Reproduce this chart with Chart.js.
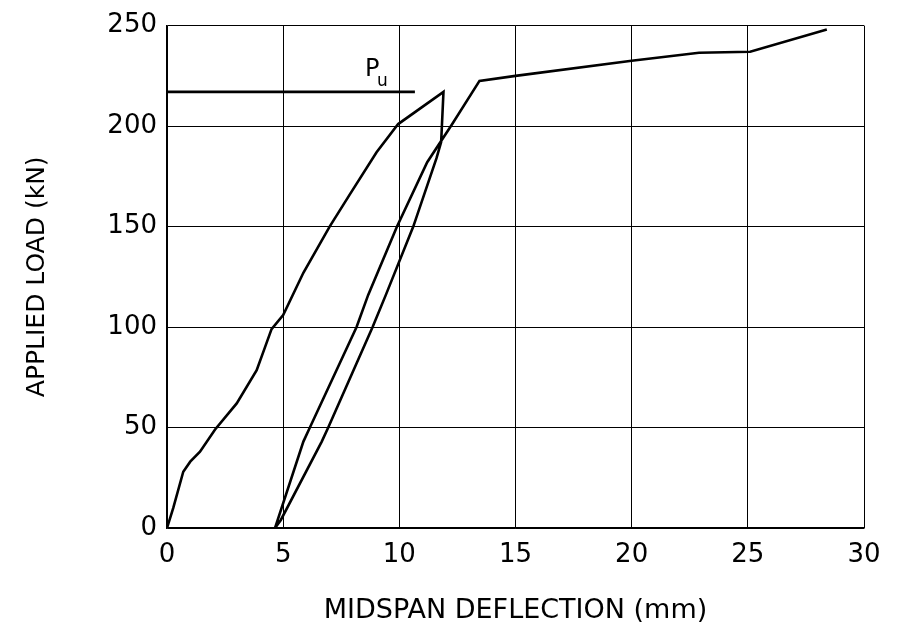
<!DOCTYPE html>
<html>
<head>
<meta charset="utf-8">
<title>Applied load vs midspan deflection</title>
<script src="https://cdn.jsdelivr.net/npm/chart.js@4.4.1/dist/chart.umd.min.js"></script>
<style>
  html, body { margin: 0; padding: 0; background: #fff; }
  #wrap { width: 900px; height: 631px; }
</style>
</head>
<body>
<div id="wrap"><canvas id="loadChart" width="900" height="631"></canvas></div>
<script>
// axis ticks
const xTicks = [0, 5, 10, 15, 20, 25, 30];
const yTicks = [0, 50, 100, 150, 200, 250];

// load-deflection curve (loading, unloading, reloading)
const deflection = [0, 0.27, 0.7, 1.0, 1.42, 2.07, 3.0, 3.86, 4.22, 4.5, 5.0, 5.87, 7.0, 7.87, 9.02, 9.95, 11.9,
  11.8, 11.6, 10.6, 9.42, 8.85, 6.94, 6.66, 4.9, 4.65,
  5.87, 6.15, 8.16, 8.66, 9.9, 11.2, 12.25, 13.45, 15.0, 20.0, 22.9, 25.1, 28.4];
const load = [0, 10, 28, 33, 38, 49, 62, 78.5, 90, 99, 106, 127, 150, 166, 187, 201, 217,
  192, 184, 150, 116, 100, 50, 43, 4, 0,
  43, 50, 100, 116, 150, 182, 200.5, 222.5, 225, 232.5, 236.5, 237, 248];

// ultimate load line Pu
const puX = [0, 10.67];
const puY = [217, 217];

const toPoints = (xs, ys) => xs.map((x, i) => ({ x, y: ys[i] }));

// Pu label next to the horizontal line
const puLabel = {
  id: 'puLabel',
  afterDatasetsDraw(chart) {
    const { ctx, scales } = chart;
    const px = scales.x.getPixelForValue(8.52);
    const py = scales.y.getPixelForValue(225);
    ctx.save();
    ctx.fillStyle = '#000';
    ctx.textBaseline = 'alphabetic';
    ctx.font = '24px "DejaVu Sans"';
    ctx.fillText('P', px, py);
    ctx.font = '17px "DejaVu Sans"';
    ctx.fillText('u', px + 12, py + 10);
    ctx.restore();
  }
};

new Chart(document.getElementById('loadChart').getContext('2d'), {
  type: 'scatter',
  data: {
    datasets: [
      {
        label: 'Load',
        data: toPoints(deflection, load),
        showLine: true,
        borderColor: '#000',
        borderWidth: 2.6,
        pointRadius: 0,
        tension: 0
      },
      {
        label: 'Pu',
        data: toPoints(puX, puY),
        showLine: true,
        borderColor: '#000',
        borderWidth: 2.6,
        pointRadius: 0
      }
    ]
  },
  options: {
    responsive: false,
    animation: false,
    events: [],
    layout: { padding: { left: 0, right: 36, top: 15, bottom: 0 } },
    plugins: {
      legend: { display: false },
      tooltip: { enabled: false }
    },
    scales: {
      x: {
        type: 'linear',
        min: 0,
        max: 30,
        afterBuildTicks: (scale) => { scale.ticks = xTicks.map(v => ({ value: v })); },
        afterFit: (scale) => { scale.height = 103; },
        grid: { color: '#000', lineWidth: 1, drawTicks: false },
        border: { color: '#000', width: 1.5 },
        ticks: {
          color: '#000',
          padding: 12,
          maxRotation: 0,
          font: { family: 'DejaVu Sans', size: 26 }
        },
        title: {
          display: true,
          text: 'MIDSPAN DEFLECTION (mm)',
          color: '#000',
          font: { family: 'DejaVu Sans', size: 27 },
          padding: { top: 0, bottom: 4 }
        }
      },
      y: {
        type: 'linear',
        min: 0,
        max: 250,
        afterBuildTicks: (scale) => { scale.ticks = yTicks.map(v => ({ value: v })); },
        afterFit: (scale) => { scale.width = 167; },
        grid: { color: '#000', lineWidth: 1, drawTicks: false },
        border: { color: '#000', width: 1.5 },
        ticks: {
          color: '#000',
          padding: 10,
          font: { family: 'DejaVu Sans', size: 26 }
        },
        title: {
          display: true,
          text: 'APPLIED LOAD (kN)',
          color: '#000',
          font: { family: 'DejaVu Sans', size: 25 },
          padding: { top: 22, bottom: 0 }
        }
      }
    }
  },
  plugins: [puLabel]
});
</script>
</body>
</html>
